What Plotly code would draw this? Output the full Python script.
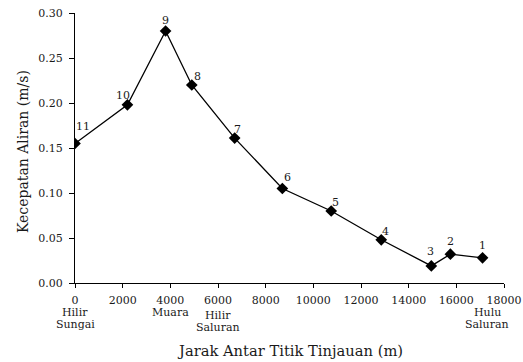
import plotly.graph_objects as go

# ---- data ----
jarak = [0, 2200, 3800, 4900, 6700, 8700, 10750, 12850, 14950, 15750, 17100]
kecepatan = [0.155, 0.198, 0.280, 0.220, 0.161, 0.105, 0.080, 0.048, 0.019, 0.032, 0.028]
titik = ["11", "10", "9", "8", "7", "6", "5", "4", "3", "2", "1"]

lokasi_x = [0, 4000, 6000, 17300]
lokasi_label = [["Hilir", "Sungai"], ["Muara"], ["Hilir", "Saluran"], ["Hulu", "Saluran"]]

x_ticks = list(range(0, 18001, 2000))
y_ticks = [0.00, 0.05, 0.10, 0.15, 0.20, 0.25, 0.30]

x_title = "Jarak Antar Titik Tinjauan (m)"
y_title = "Kecepatan Aliran (m/s)"

# ---- styling / label offsets ----
label_dx = [8, -4, 0, 6, 3, 5, 4, 4, -1, 0, 0]
label_dy = [17, 9, 11, 9, 9, 11, 9, 8, 14, 13, 12]
lokasi_dy = [0, 0, 3, 0]

FONT = "DejaVu Serif"
INK = "#1a1a1a"

fig = go.Figure()
fig.add_trace(go.Scatter(
    x=jarak, y=kecepatan, mode="lines+markers",
    line=dict(color="black", width=1.3),
    marker=dict(symbol="diamond", size=9, color="black"),
    showlegend=False, hoverinfo="skip",
))

for xv, yv, t, dx, dy in zip(jarak, kecepatan, titik, label_dx, label_dy):
    fig.add_annotation(x=xv, y=yv, text=t, showarrow=False,
                       xshift=dx, yshift=dy, xanchor="center", yanchor="middle",
                       font=dict(family=FONT, size=11, color=INK))

for xv, lines, dy in zip(lokasi_x, lokasi_label, lokasi_dy):
    for i, ln in enumerate(lines):
        fig.add_annotation(x=xv, xref="x", y=0, yref="paper", text=ln, showarrow=False,
                           xanchor="center", yanchor="middle",
                           yshift=-(29 + 12 * i + dy),
                           font=dict(family=FONT, size=11, color=INK))

fig.add_annotation(x=0.5, xref="paper", y=0, yref="paper", text=x_title, showarrow=False,
                   xanchor="center", yanchor="middle", yshift=-67,
                   font=dict(family=FONT, size=14.7, color=INK))
fig.add_annotation(x=0, xref="paper", y=0.5, yref="paper", text=y_title, showarrow=False,
                   textangle=-90, xanchor="center", yanchor="middle", xshift=-52, yshift=-4,
                   font=dict(family=FONT, size=14, color=INK))

fig.update_layout(
    width=523, height=362,
    margin=dict(l=75, r=19, t=13, b=79),
    paper_bgcolor="white", plot_bgcolor="white",
    font=dict(family=FONT, size=11, color=INK),
    xaxis=dict(
        range=[0, 18000], tickvals=x_ticks, ticktext=[str(v) for v in x_ticks],
        showgrid=False, zeroline=False, showline=True, linecolor="black", linewidth=1,
        ticks="outside", ticklen=4, tickcolor="black", automargin=False,
        ticklabelstandoff=3,
        tickfont=dict(family=FONT, size=11, color=INK),
    ),
    yaxis=dict(
        range=[0, 0.30], tickvals=y_ticks, ticktext=[f"{v:.2f}" for v in y_ticks],
        showgrid=False, zeroline=False, showline=True, linecolor="black", linewidth=1,
        ticks="outside", ticklen=5, tickcolor="black", automargin=False,
        ticklabelstandoff=4,
        tickfont=dict(family=FONT, size=11, color=INK),
    ),
)

fig.write_html("out.html")
